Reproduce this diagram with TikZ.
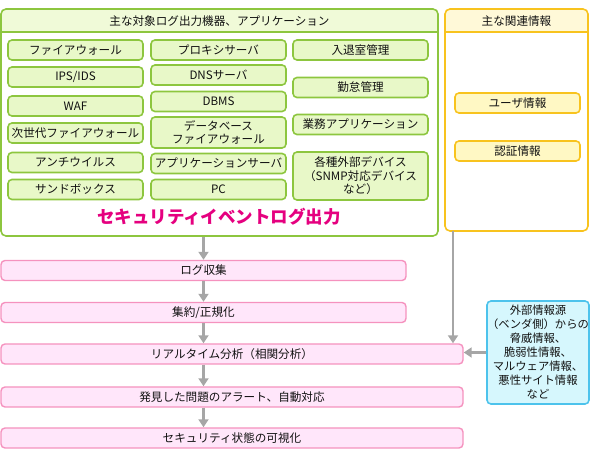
\documentclass[tikz,border=0pt]{standalone}
\usepackage{fontspec}
\setmainfont{Noto Sans CJK JP}
\usepackage{xcolor}
\usetikzlibrary{positioning}
\usetikzlibrary{arrows.meta}
\definecolor{greenline}{HTML}{8DC63F}
\definecolor{greenfill}{HTML}{E8F8C8}
\definecolor{greenhead}{HTML}{F0FAD8}
\definecolor{yellowline}{HTML}{F8C31E}
\definecolor{yellowfill}{HTML}{FFF8C4}
\definecolor{yellowhead}{HTML}{FFF9D8}
\definecolor{pinkline}{HTML}{F592BE}
\definecolor{pinkfill}{HTML}{FFE6FA}
\definecolor{blueline}{HTML}{4DC3EC}
\definecolor{bluefill}{HTML}{D6F7FD}
\definecolor{titlepink}{HTML}{E5007F}
\definecolor{arrowgray}{HTML}{A6A6A6}
\definecolor{textdark}{HTML}{111111}

\begin{document}
\begin{tikzpicture}[x=1pt, y=-1pt, font=\fontsize{11.6}{13.5}\selectfont, text=textdark,
                    frame/.style={rectangle, rounded corners=5pt, line width=1.6pt, inner sep=0pt},
                    devnode/.style={rectangle, rounded corners=4pt, draw=greenline, fill=greenfill,
                                    line width=1.6pt, inner sep=0pt, minimum width=135pt,
                                    minimum height=20pt, align=center},
                    infonode/.style={rectangle, rounded corners=4pt, draw=yellowline, fill=yellowfill,
                                     line width=1.6pt, inner sep=0pt, minimum width=125pt,
                                     minimum height=20pt},
                    stagenode/.style={rectangle, rounded corners=4pt, draw=pinkline, fill=pinkfill,
                                      line width=1.4pt, inner sep=0pt, minimum height=20pt},
                    flow/.style={-{Triangle[width=10pt, length=8pt]}, draw=arrowgray, line width=2.4pt}
                   ]
\useasboundingbox (0,0) rectangle (590,457);
%Frames
\begin{scope}
\clip[rounded corners=5pt] (1,9) rectangle (438,236);
\fill[greenhead] (1,9) rectangle (438,32);
\end{scope}
\begin{scope}
\clip[rounded corners=5pt] (445,9) rectangle (588,231);
\fill[yellowhead] (445,9) rectangle (588,32);
\end{scope}
\node[frame, draw=greenline, minimum width=437pt, minimum height=227pt]  (src) at (219.5,122.5) {};
\node[frame, draw=yellowline, minimum width=143pt, minimum height=222pt] (rel) at (516.5,120) {};
\draw[greenline, line width=1.6pt]  (1,32)   -- (438,32);
\draw[yellowline, line width=1.6pt] (445,32) -- (588,32);
\node (srchead) at (219.5,21) {主な対象ログ出力機器、アプリケーション};
\node (relhead) at (516.5,21) {主な関連情報};

%Nodes
\node[devnode] (fw)      at (75.5,50)    {ファイアウォール};
\node[devnode] (ips)     at (75.5,77)    {IPS/IDS};
\node[devnode] (waf)     at (75.5,106)   {WAF};
\node[devnode] (ngfw)    at (75.5,133)   {次世代ファイアウォール};
\node[devnode] (av)      at (75.5,162.5) {アンチウイルス};
\node[devnode] (sandbox) at (75.5,189.5) {サンドボックス};

\node[devnode] (proxy)   at (218.5,50)    {プロキシサーバ};
\node[devnode] (dns)     at (218.5,75)    {DNSサーバ};
\node[devnode] (dbms)    at (218.5,101.5) {DBMS};
\node[devnode, minimum height=31pt] (dbfw) at (218.5,132.5) {データベース\\ファイアウォール};
\node[devnode] (appsrv)  at (218.5,163.5) {アプリケーションサーバ};
\node[devnode] (pc)      at (218.5,189.5) {PC};

\node[devnode] (room)    at (360.5,50)    {入退室管理};
\node[devnode] (attend)  at (360.5,87.5)  {勤怠管理};
\node[devnode] (bizapp)  at (360.5,124.5) {業務アプリケーション};
\node[devnode, minimum height=48pt] (extdev) at (360.5,176) {各種外部デバイス\\（SNMP対応デバイス\\など）};

\node[text=titlepink, font=\fontsize{17.5}{17.5}\selectfont\bfseries] (title) at (219,217) {セキュリティイベントログ出力};

\node[infonode] (user) at (517.5,103) {ユーザ情報};
\node[infonode] (auth) at (517.5,151) {認証情報};

\node[stagenode, minimum width=405pt] (collect)   at (203.5,270.5) {ログ収集};
\node[stagenode, minimum width=405pt] (normalize) at (203.5,312.5) {集約/正規化};
\node[stagenode, minimum width=462pt] (analyze)   at (232,354)     {リアルタイム分析（相関分析）};
\node[stagenode, minimum width=462pt] (alert)     at (232,397)     {発見した問題のアラート、自動対応};
\node[stagenode, minimum width=462pt] (visual)    at (232,438)     {セキュリティ状態の可視化};

\node[rectangle, rounded corners=4pt, draw=blueline, fill=bluefill, line width=1.6pt,
      inner sep=0pt, minimum width=102pt, minimum height=103pt, align=center,
      font=\fontsize{11.3}{14}\selectfont] (ext) at (538,352.5)
      {外部情報源\\（ベンダ側）からの\\脅威情報、\\脆弱性情報、\\マルウェア情報、\\悪性サイト情報\\など};

%Lines
\coordinate (relout) at (453,231);
\draw[flow] (src.south -| collect.north) -- (collect.north);
\draw[flow] (collect.south) -- (normalize.north);
\draw[flow] (normalize.south) -- (normalize.south |- analyze.north);
\draw[flow] (analyze.south -| collect.south) -- (alert.north -| collect.south);
\draw[flow] (alert.south -| collect.south) -- (visual.north -| collect.south);
\draw[flow] (relout) -- (relout |- analyze.north);
\draw[flow] (ext.west) -- (ext.west -| analyze.east);
\end{tikzpicture}
\end{document}
